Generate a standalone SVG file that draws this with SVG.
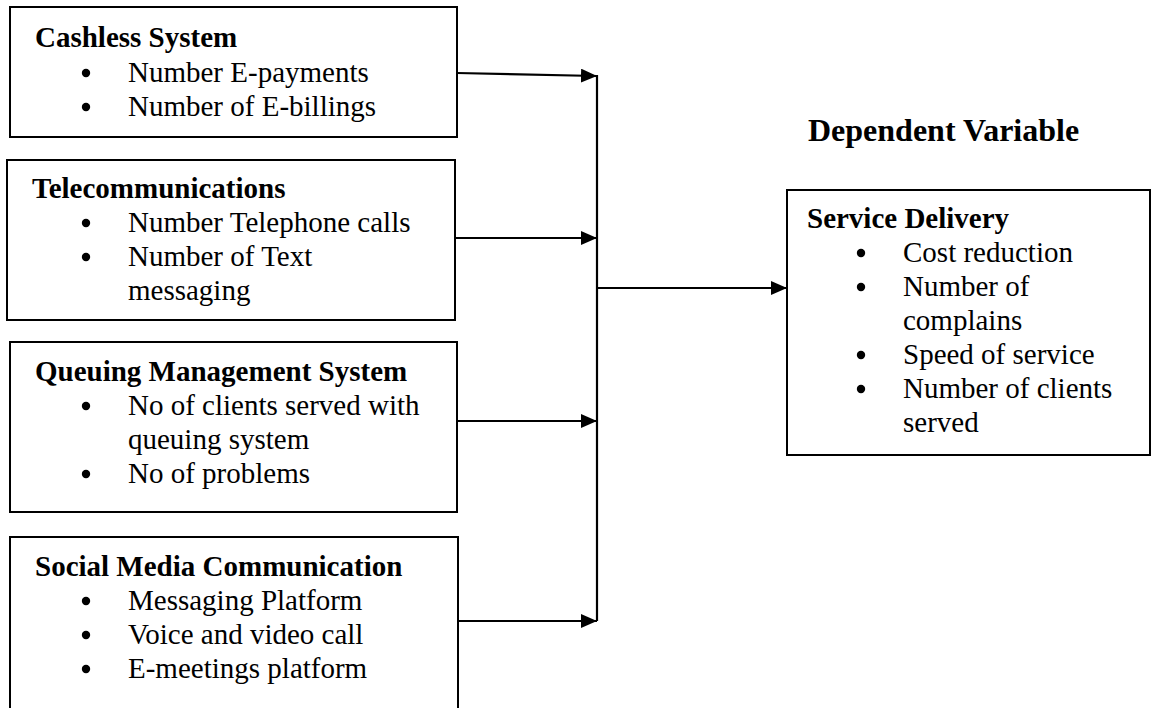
<svg xmlns="http://www.w3.org/2000/svg" width="1155" height="708" viewBox="0 0 1155 708">
<style>
.box{fill:#fff;stroke:#000;stroke-width:2}
.h{font-family:"Liberation Serif","Times New Roman",serif;font-weight:bold;font-size:29px;fill:#000}
.t{font-family:"Liberation Serif","Times New Roman",serif;font-size:29px;fill:#000}
.dv{font-family:"Liberation Serif","Times New Roman",serif;font-weight:bold;font-size:32px;fill:#000}
.b{fill:#000}
.c{fill:none;stroke:#000;stroke-width:2.2}
</style>
<defs>
<marker id="ah" markerUnits="userSpaceOnUse" markerWidth="16" markerHeight="14" refX="16" refY="7" orient="auto">
<path d="M0,0 L16,7 L0,14 z" fill="#000"/>
</marker>
</defs>
<rect width="1155" height="708" fill="#fff"/>

<g id="cashless">
<rect class="box" x="10" y="7" width="447" height="130"/>
<text class="h" x="35" y="47">Cashless System</text>
<circle class="b" cx="86" cy="73" r="4.2"/>
<text class="t" x="128" y="82">Number E-payments</text>
<circle class="b" cx="86" cy="107" r="4.2"/>
<text class="t" x="128" y="116">Number of E-billings</text>
</g>

<g id="telecom">
<rect class="box" x="7" y="160" width="448" height="160"/>
<text class="h" x="32" y="198">Telecommunications</text>
<circle class="b" cx="86" cy="223" r="4.2"/>
<text class="t" x="128" y="232">Number Telephone calls</text>
<circle class="b" cx="86" cy="257" r="4.2"/>
<text class="t" x="128" y="266">Number of Text</text>
<text class="t" x="128" y="300">messaging</text>
</g>

<g id="queuing">
<rect class="box" x="10" y="342" width="447" height="170"/>
<text class="h" x="35" y="381">Queuing Management System</text>
<circle class="b" cx="86" cy="406" r="4.2"/>
<text class="t" x="128" y="415">No of clients served with</text>
<text class="t" x="128" y="449">queuing system</text>
<circle class="b" cx="86" cy="474" r="4.2"/>
<text class="t" x="128" y="483">No of problems</text>
</g>

<g id="social">
<rect class="box" x="10" y="537" width="448" height="200"/>
<text class="h" x="35" y="576">Social Media Communication</text>
<circle class="b" cx="86" cy="601" r="4.2"/>
<text class="t" x="128" y="610">Messaging Platform</text>
<circle class="b" cx="86" cy="635" r="4.2"/>
<text class="t" x="128" y="644">Voice and video call</text>
<circle class="b" cx="86" cy="669" r="4.2"/>
<text class="t" x="128" y="678">E-meetings platform</text>
</g>

<g id="dependent-label">
<text class="dv" x="808" y="141">Dependent Variable</text>
</g>

<g id="service">
<rect class="box" x="787" y="190" width="363" height="265"/>
<text class="h" x="807" y="228">Service Delivery</text>
<circle class="b" cx="861" cy="253" r="4.2"/>
<text class="t" x="903" y="262">Cost reduction</text>
<circle class="b" cx="861" cy="287" r="4.2"/>
<text class="t" x="903" y="296">Number of</text>
<text class="t" x="903" y="330">complains</text>
<circle class="b" cx="861" cy="355" r="4.2"/>
<text class="t" x="903" y="364">Speed of service</text>
<circle class="b" cx="861" cy="389" r="4.2"/>
<text class="t" x="903" y="398">Number of clients</text>
<text class="t" x="903" y="432">served</text>
</g>

<g id="connectors">
<line class="c" x1="597" y1="75" x2="597" y2="621"/>
<line class="c" x1="457" y1="73" x2="597" y2="76" marker-end="url(#ah)"/>
<line class="c" x1="455" y1="238" x2="597" y2="238" marker-end="url(#ah)"/>
<line class="c" x1="457" y1="421" x2="597" y2="421" marker-end="url(#ah)"/>
<line class="c" x1="458" y1="621" x2="597" y2="621" marker-end="url(#ah)"/>
<line class="c" x1="597" y1="288" x2="787" y2="288" marker-end="url(#ah)"/>
</g>
</svg>
